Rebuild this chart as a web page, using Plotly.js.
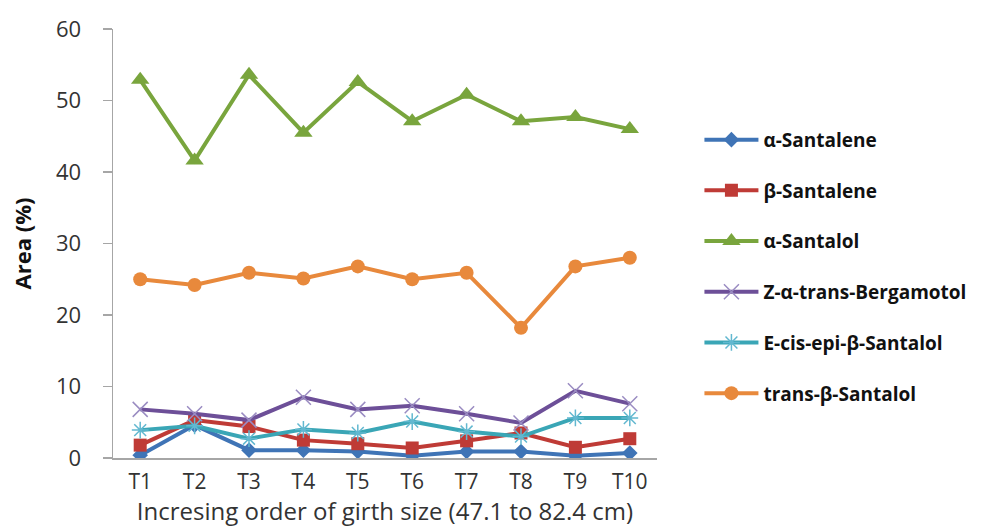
<!DOCTYPE html>
<html>
<head>
<meta charset="utf-8">
<script src="https://cdn.plot.ly/plotly-3.0.1.min.js"></script>
<style>html,body{margin:0;padding:0;background:#fff;}#chart{width:983px;height:527px;}</style>
</head>
<body>
<div id="chart"></div>
<script>
const categories = ["T1","T2","T3","T4","T5","T6","T7","T8","T9","T10"];
const alphaSantalene = [0.4, 4.6, 1.1, 1.1, 0.9, 0.3, 0.9, 0.9, 0.3, 0.7];
const betaSantalene = [1.8, 5.3, 4.4, 2.5, 2.0, 1.4, 2.4, 3.5, 1.5, 2.7];
const alphaSantalol = [52.9, 41.6, 53.6, 45.5, 52.6, 47.1, 50.8, 47.1, 47.7, 46.0];
const bergamotol = [6.8, 6.2, 5.3, 8.5, 6.8, 7.3, 6.2, 4.9, 9.4, 7.6];
const eCisEpiBetaSantalol = [3.9, 4.5, 2.7, 4.0, 3.5, 5.1, 3.7, 3.0, 5.6, 5.6];
const transBetaSantalol = [25.0, 24.2, 25.9, 25.1, 26.8, 25.0, 25.9, 18.2, 26.8, 28.0];
const seriesNames = ["α-Santalene","β-Santalene","α-Santalol","Z-α-trans-Bergamotol","E-cis-epi-β-Santalol","trans-β-Santalol"];
const yTicks = [0,10,20,30,40,50,60];

function tr(name, y, color, symbol, size, mcolor, mline) {
  return {
    type: 'scatter', mode: 'lines+markers', name: name, legendgroup: name,
    x: categories, y: y,
    line: {color: color, width: 4},
    marker: {symbol: symbol, size: size, color: mcolor || color,
             line: {color: mline || mcolor || color, width: mline ? 1.5 : 0}}
  };
}

const data = [
  tr(seriesNames[0], alphaSantalene, '#3f74b6', 'diamond', 12),
  tr(seriesNames[1], betaSantalene, '#bf3b36', 'square', 13),
  tr(seriesNames[2], alphaSantalol, '#79a53d', 'triangle-up', 16),
  tr(seriesNames[3], bergamotol, '#6d4f98', 'x-thin-open', 15, '#9a8cc2', '#9a8cc2'),
  tr(seriesNames[4], eCisEpiBetaSantalol, '#3aa6b6', 'asterisk-open', 14, '#62b8d0', '#62b8d0'),
  tr(seriesNames[5], transBetaSantalol, '#e8893c', 'circle', 14)
];

const layout = {
  width: 983, height: 527,
  margin: {l: 113, r: 315, t: 29, b: 69},
  paper_bgcolor: '#ffffff', plot_bgcolor: '#ffffff',
  font: {family: 'Open Sans, sans-serif', color: '#404040'},
  showlegend: true,
  legend: {
    x: 1.078, y: 0.786, xanchor: 'left', yanchor: 'top',
    font: {family: 'Open Sans, sans-serif', size: 19, color: '#111111', weight: 'bold'},
    tracegroupgap: 23, itemwidth: 54, bgcolor: 'rgba(0,0,0,0)'
  },
  xaxis: {
    type: 'category', tickvals: categories, ticktext: categories,
    range: [-0.5, 9.5], showgrid: false, zeroline: false,
    showline: true, linecolor: '#a6a6a6', linewidth: 1.5,
    ticks: '', tickfont: {size: 21, color: '#333333'}, ticklabelstandoff: 4,
    title: {text: 'Incresing order of girth size (47.1 to 82.4 cm)', font: {size: 24, color: '#333333'}, standoff: 7}
  },
  yaxis: {
    range: [0, 60], tickvals: yTicks, showgrid: false, zeroline: false,
    showline: true, linecolor: '#a6a6a6', linewidth: 1.5,
    ticks: 'outside', ticklen: 9, tickcolor: '#a6a6a6', tickwidth: 1.5,
    tickfont: {size: 22, color: '#333333'}, ticklabelstandoff: 17,
    title: {text: '<b>Area (%)</b>', font: {size: 22, color: '#111111'}, standoff: 18}
  }
};

Plotly.newPlot('chart', data, layout, {displayModeBar: false, staticPlot: true});
</script>
</body>
</html>
